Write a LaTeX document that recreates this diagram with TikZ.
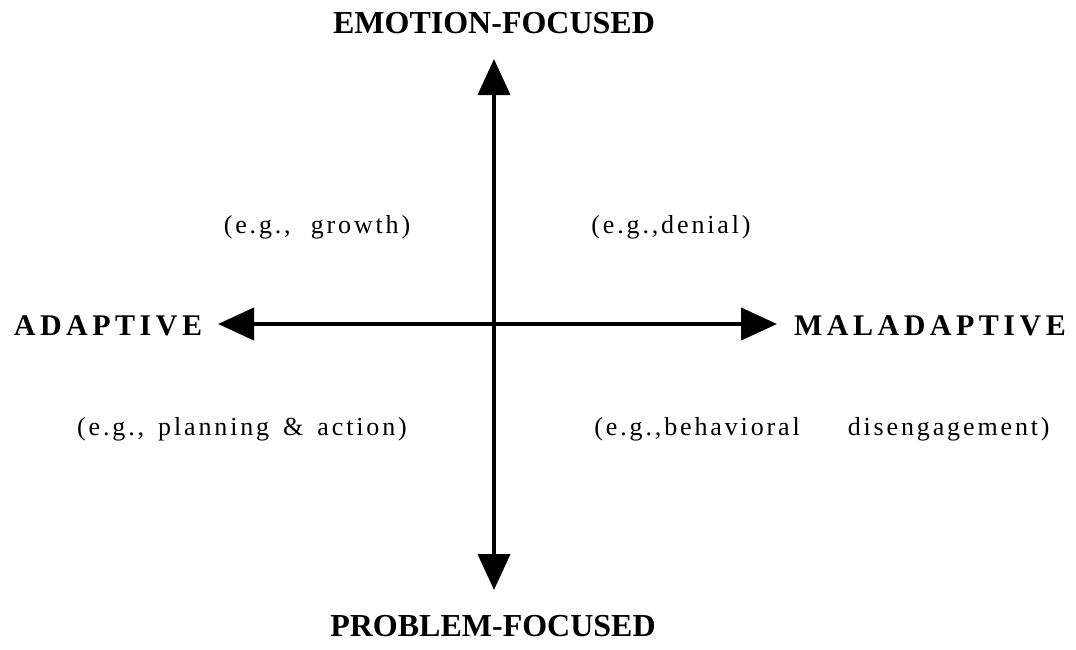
\documentclass[tikz,border=0pt]{standalone}
\usepackage{fontspec}
\setmainfont{Liberation Serif}
\newfontfamily\biglbl[LetterSpace=15]{Liberation Serif}
\newfontfamily\toplbl{Liberation Serif}
\newfontfamily\exlbl[LetterSpace=11]{Liberation Serif}
\usetikzlibrary{arrows.meta}
\begin{document}
\begin{tikzpicture}[x=1pt,y=-1pt,
  axis/.style={line width=4pt,{Triangle[length=36pt,width=32pt]}-{Triangle[length=36pt,width=32pt]}},
  vlabel/.style={inner sep=0pt,anchor=base,font=\toplbl\fontsize{32}{38}\selectfont\bfseries},
  hlabel/.style={inner sep=0pt,anchor=base,font=\biglbl\fontsize{30}{36}\selectfont\bfseries},
  example/.style={inner sep=0pt,anchor=base,font=\exlbl\fontsize{26}{30}\selectfont}]
\useasboundingbox (0,0) rectangle (1076,649);
\coordinate (top) at (494,59);
\coordinate (bottom) at (494,590);
\coordinate (left) at (218,324);
\coordinate (right) at (777,324);
\draw[axis] (bottom) -- (top);
\draw[axis] (left) -- (right);
\node[vlabel] (emo) at (494,33) {EMOTION-FOCUSED};
\node[vlabel] (prob) at (493,636) {PROBLEM-FOCUSED};
\node[hlabel] (adap) at (108,335) {ADAPTIVE};
\node[hlabel] (mal) at (930,335) {MALADAPTIVE};
\node[example] (growth) at (317,233) {(e.g.,\hspace{20pt}growth)};
\node[example] (denial) at (671,233) {(e.g.,denial)};
\node[example] (plan) at (242,435) {(e.g.,\hspace{14pt}planning\hspace{14pt}\&\hspace{14pt}action)};
\node[example] (behav) at (822,435) {(e.g.,behavioral\hspace{48pt}disengagement)};
\end{tikzpicture}
\end{document}
